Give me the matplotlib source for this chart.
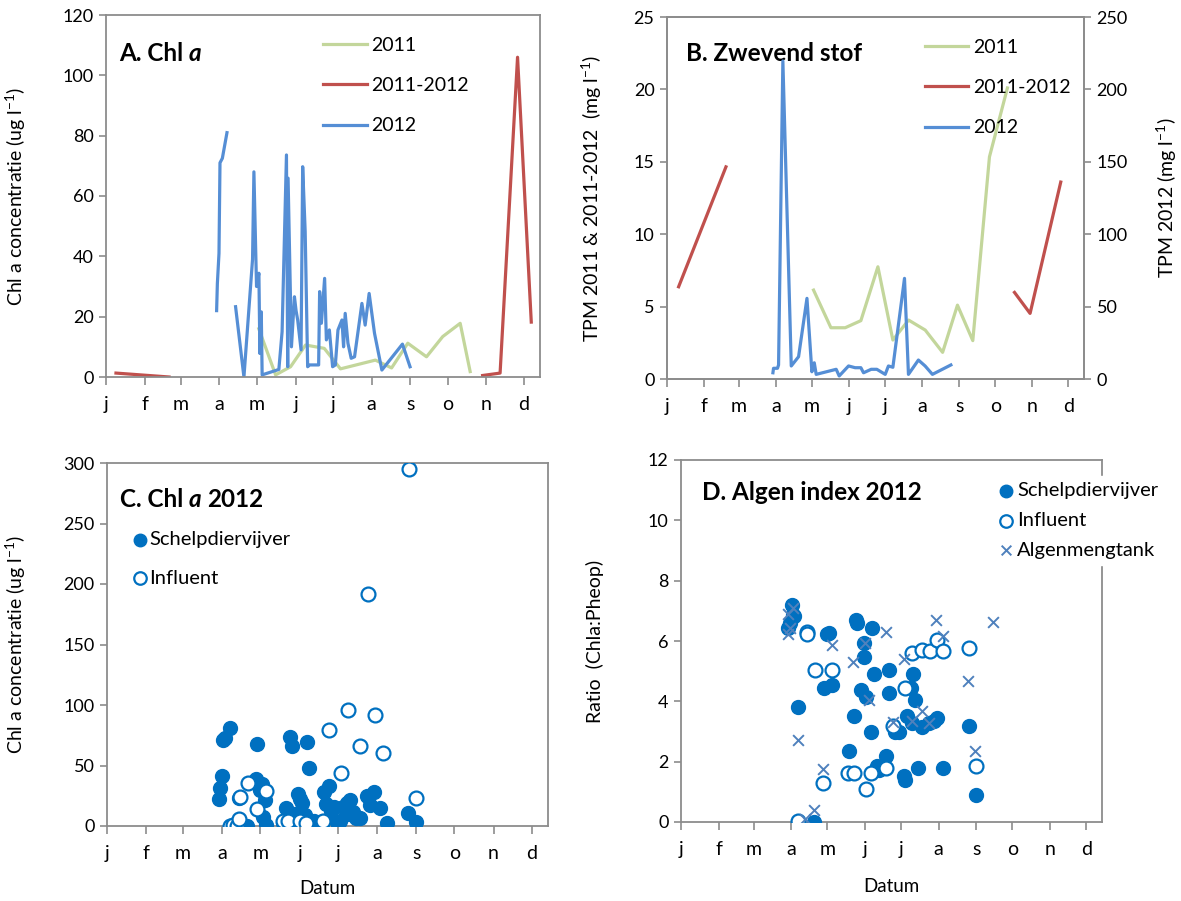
import numpy as np
import matplotlib
matplotlib.use("Agg")
import matplotlib.pyplot as plt

plt.rcParams['font.family'] = ['Lato', 'DejaVu Sans']
plt.rcParams['mathtext.fontset'] = 'custom'
plt.rcParams['mathtext.rm'] = 'Lato'
plt.rcParams['mathtext.it'] = 'Lato:italic'
plt.rcParams['mathtext.bf'] = 'Lato:bold'

# month ticks (day of year)
month_days = [0, 31, 60, 91, 121, 152, 182, 213, 244, 274, 305, 335]
month_labels = ['j', 'f', 'm', 'a', 'm', 'j', 'j', 'a', 's', 'o', 'n', 'd']

# A. Chl a lines
chl2011_day = [122.5, 136, 148, 160, 175, 188, 216, 229, 242, 257, 270, 284, 292]
chl2011_val = [16, 0.7, 3.4, 10.6, 9.5, 2.7, 5.6, 3.0, 11.2, 6.7, 13.4, 17.8, 1.8]

chl1112_day = [8, 50.6, np.nan, 302, 316, 330, 341]
chl1112_val = [1.3, 0.0, np.nan, 0.5, 1.3, 106, 18.2]

# 2012 schelpdiervijver (line in A, filled dots in C)
schelp_day = [88.7, 89.3, 90.6, 91.4, 93.3, 97.0, 100, 103.9, 110.6, 117.5, 118.6,
              120.7, 122.6, 123.4, 124.5, 125.2, 138.6, 141.2, 144.7, 145.7, 146.0,
              148.7, 151.1, 152.4, 153.7, 156.4, 157.7, 159.7, 161.7, 163.3, 170.5,
              171.3, 172.7, 175.3, 176.7, 179.1, 181.7, 183.9, 186.0, 189.2, 190.5,
              191.8, 194.0, 196.6, 199.3, 205.2, 207.8, 211.0, 215.3, 221.2, 237.7, 243.8]
schelp_chl = [22.0, 31.0, 41.0, 71.0, 72.5, 81.0, np.nan, 23.3, 0.0, 39.0, 68.0,
              30.0, 34.4, 7.8, 21.6, 0.7, 2.5, 15.0, 73.6, 3.4, 65.9,
              10.0, 26.6, 22.0, 18.9, 9.0, 69.7, 48.3, 3.4, 4.0, 4.0,
              28.3, 17.8, 32.7, 12.3, 15.6, 3.4, 4.0, 15.6, 18.9, 10.0,
              21.1, 11.2, 6.2, 6.7, 24.4, 17.2, 27.7, 14.5, 2.3, 10.9, 3.4]

# C. influent
infl_day = [97.2, 99.3, 102.5, 103.8, 105.1, 111.6, 118.2, 125.3, 138.7, 143.2,
            152.4, 157.1, 170.2, 175.5, 184.7, 189.9, 199.7, 206.2, 211.5, 218.0,
            238.5, 243.8]
infl_chl = [0.0, 0.8, 0.0, 5.5, 24.1, 35.7, 13.7, 29.1, 4.1, 4.1,
            4.1, 2.7, 4.1, 79, 44.2, 95.5, 66.1, 191.5, 91.4, 60.6,
            295, 23.3]

# B. zwevend stof
tpm2011_day = [122.3, 136.8, 148.7, 161.8, 176, 188.5, 201.6, 215.5, 230, 242.4, 255.2, 269.1, 284.1]
tpm2011_val = [6.14, 3.54, 3.54, 4.03, 7.75, 2.69, 4.07, 3.38, 1.84, 5.1, 2.65, 15.34, 20.1]

tpm1112_day = [9.7, 49.2, np.nan, 290, 303, 328.6]
tpm1112_val = [6.37, 14.65, np.nan, 5.98, 4.53, 13.6]

tpm2012_day = [88.4, 88.9, 92.2, 93.1, 96.7, 103.7, 109.8, 116.8, 120.9, 122.9, 124.5,
               141.2, 143.7, 151.5, 157, 161.8, 164, 170.4, 175.1, 182.1, 184.8,
               188.5, 198.2, 201.5, 209.8, 215.4, 221.5, 236.9]
tpm2012_val = [4.3, 7.4, 7.4, 9.7, 219.6, 9, 15.4, 55.7, 5, 11.2, 3.2,
               6.7, 2.1, 9, 7.8, 7.8, 4.3, 6.7, 6.7, 3.2, 9,
               8.1, 69.5, 3.2, 13.1, 9, 3.2, 9.7]

# D. algen index (Chla:Pheop)
d_schelp_day = [91.6, 92.4, 88.8, 90.2, 93.0, 97.1, 110.3, 118.3, 120.5, 122.7, 125.1,
                138.9, 143.3, 144.6, 145.7, 148.8, 151.3, 152.9, 151.5, 156.8, 158.1,
                159.8, 162.3, 163.9, 169.4, 172.2, 172.2, 176.8, 180.4, 184.5, 185.1,
                186.5, 192.0, 189.8, 193.3, 190.6, 198.8, 196.1, 205.2, 209.0, 211.8,
                216.7, 238.2, 243.7]
d_schelp_val = [7.19, 6.86, 6.44, 6.6, 6.83, 3.8, 0.0, 4.43, 6.22, 6.28, 4.54,
                2.37, 3.52, 6.68, 6.59, 4.37, 5.48, 4.15, 5.93, 2.97, 6.44,
                4.92, 1.87, 1.73, 2.2, 5.03, 4.26, 2.97, 3.0, 1.54, 1.4,
                3.52, 4.92, 4.43, 4.04, 3.27, 3.14, 1.8, 3.27, 3.36, 3.44,
                1.8, 3.19, 0.9]

d_infl_day = [104.0, 104.5, 110.8, 124.9, 117.7, 97.1, 138.3, 143.3, 156.8, 152.9,
              169.4, 174.9, 185.1, 190.6, 198.8, 205.7, 211.2, 216.7, 238.2, 243.7]
d_infl_val = [6.3, 6.22, 5.04, 5.04, 1.3, 0.02, 1.63, 1.63, 1.63, 1.08,
              1.8, 3.17, 4.43, 5.59, 5.7, 5.67, 6.04, 5.67, 5.76, 1.85]

d_tank_day = [88.8, 88.3, 90.2, 92.5, 96.3, 102.6, 110.0, 117.2, 124.6, 141.9, 152.4,
              155.7, 169.1, 174.9, 184.3, 190.6, 198.8, 205.2, 210.7, 216.2, 237.3,
              242.8, 258.0]
d_tank_val = [6.88, 6.22, 6.44, 7.1, 2.72, 0.11, 0.41, 1.76, 5.86, 5.31, 5.95,
              4.04, 6.3, 3.3, 5.4, 3.34, 3.69, 3.28, 6.68, 6.17, 4.68,
              2.35, 6.63]

green = '#C3D69B'
red = '#C0504D'
blue_line = '#558ED5'
dot_blue = '#0070C0'
x_blue = '#4F81BD'
spine_col = '#8C8C8C'

W, H = 1181, 901
fig = plt.figure(figsize=(W / 100, H / 100), dpi=100)


def px_axes(l, r, t, b):
    return fig.add_axes([l / W, 1 - b / H, (r - l) / W, (b - t) / H])


def style(ax, ymax, ystep):
    ax.set_xlim(0, 348)
    ax.set_ylim(0, ymax)
    ax.set_yticks(np.arange(0, ymax + 0.1, ystep))
    ax.set_xticks(month_days)
    ax.set_xticklabels(month_labels)
    for s in ax.spines.values():
        s.set_color(spine_col)
        s.set_linewidth(1.3)
    ax.tick_params(axis='x', direction='out', length=6, width=1.2, color=spine_col,
                   labelsize=14, pad=8)
    ax.tick_params(axis='y', direction='out', length=5, width=1.2, color=spine_col,
                   labelsize=13, pad=4)


def title(ax, parts, x, y):
    t = ax.text(x, y, parts[0][0], transform=ax.transAxes, fontsize=17.5,
                fontweight='bold', va='center', ha='left', style=parts[0][1])
    for txt, st in parts[1:]:
        t = ax.annotate(txt, xy=(1, 0), xycoords=t, xytext=(4, 0),
                        textcoords='offset points', fontsize=17.5, fontweight='bold',
                        va='bottom', ha='left', style=st)


line_leg = dict(loc='upper left', frameon=False, fontsize=14, handlelength=2.25,
                handletextpad=0.25, labelspacing=1.2, borderaxespad=0, borderpad=0)

# ---- A ----
axA = px_axes(106, 540, 15, 377)
style(axA, 120, 20)
axA.plot(chl2011_day, chl2011_val, color=green, lw=2.3, label='2011')
axA.plot(chl1112_day, chl1112_val, color=red, lw=2.3, label='2011-2012')
axA.plot(schelp_day, schelp_chl, color=blue_line, lw=2.3, label='2012')
axA.set_ylabel(r'Chl a concentratie (ug l$^{-1}$)', fontsize=14)
axA.yaxis.set_label_coords(-0.18, 0.5)
title(axA, [('A. Chl', 'normal'), ('a', 'italic')], 0.03, 0.895)
axA.legend(bbox_to_anchor=(0.5, 0.94), **line_leg)

# ---- B ----
axB = px_axes(667, 1084, 17, 379)
style(axB, 25, 5)
axB2 = axB.twinx()
axB2.set_ylim(0, 250)
axB2.set_yticks(np.arange(0, 251, 50))
axB2.tick_params(axis='y', direction='out', length=5, width=1.2, color=spine_col,
                 labelsize=13, pad=4)
for s in axB2.spines.values():
    s.set_color(spine_col)
    s.set_linewidth(1.3)
l1, = axB.plot(tpm2011_day, tpm2011_val, color=green, lw=2.3, label='2011')
l2, = axB.plot(tpm1112_day, tpm1112_val, color=red, lw=2.3, label='2011-2012')
l3, = axB2.plot(tpm2012_day, tpm2012_val, color=blue_line, lw=2.3, label='2012')
axB.set_ylabel(r'TPM 2011 & 2011-2012  (mg l$^{-1}$)', fontsize=14)
axB.yaxis.set_label_coords(-0.15, 0.5)
axB2.set_ylabel(r'TPM 2012 (mg l$^{-1}$)', fontsize=14)
axB2.yaxis.set_label_coords(1.17, 0.5)
title(axB, [('B. Zwevend stof', 'normal')], 0.045, 0.9)
axB2.legend(handles=[l1, l2, l3], bbox_to_anchor=(0.618, 0.94), **line_leg)

# ---- C ----
axC = px_axes(107, 548, 463, 826)
style(axC, 300, 50)
axC.scatter(schelp_day, schelp_chl, s=100, color=dot_blue, edgecolor=dot_blue,
            lw=1, label='Schelpdiervijver', zorder=3)
axC.scatter(infl_day, infl_chl, s=100, facecolor='white', edgecolor=dot_blue,
            lw=1.6, label='Influent', zorder=4)
axC.set_ylabel(r'Chl a concentratie (ug l$^{-1}$)', fontsize=14)
axC.yaxis.set_label_coords(-0.179, 0.5)
axC.set_xlabel('Datum', fontsize=13.5)
axC.xaxis.set_label_coords(0.5, -0.148)
title(axC, [('C. Chl', 'normal'), ('a', 'italic'), ('2012', 'normal')], 0.03, 0.9)
axC.legend(loc='upper left', bbox_to_anchor=(0.03, 0.812), frameon=False, fontsize=14.5,
           handletextpad=-0.55, labelspacing=1.05, borderaxespad=0, borderpad=0,
           scatterpoints=1, markerscale=0.9)

# ---- D ----
axD = px_axes(681, 1102, 460, 822)
style(axD, 12, 2)
axD.scatter(d_schelp_day, d_schelp_val, s=100, color=dot_blue, edgecolor=dot_blue,
            lw=1, label='Schelpdiervijver', zorder=3)
axD.scatter(d_infl_day, d_infl_val, s=100, facecolor='white', edgecolor=dot_blue,
            lw=1.6, label='Influent', zorder=4)
axD.scatter(d_tank_day, d_tank_val, s=60, marker='x', color=x_blue, lw=1.4,
            label='Algenmengtank', zorder=5)
axD.set_ylabel('Ratio  (Chla:Pheop)', fontsize=14)
axD.yaxis.set_label_coords(-0.183, 0.5)
axD.set_xlabel('Datum', fontsize=13.5)
axD.xaxis.set_label_coords(0.5, -0.155)
title(axD, [('D. Algen index 2012', 'normal')], 0.05, 0.91)
legD = axD.legend(loc='upper left', bbox_to_anchor=(0.71, 0.955), frameon=True,
                  fontsize=14.5, handletextpad=-0.45, labelspacing=0.62, borderaxespad=0,
                  borderpad=0.3, scatterpoints=1, markerscale=0.9, fancybox=False)
legD.get_frame().set_facecolor('white')
legD.get_frame().set_edgecolor('white')
legD.get_frame().set_alpha(1)
legD.set_zorder(10)
legD.set_clip_on(False)

fig.savefig('out.png', dpi=100)
